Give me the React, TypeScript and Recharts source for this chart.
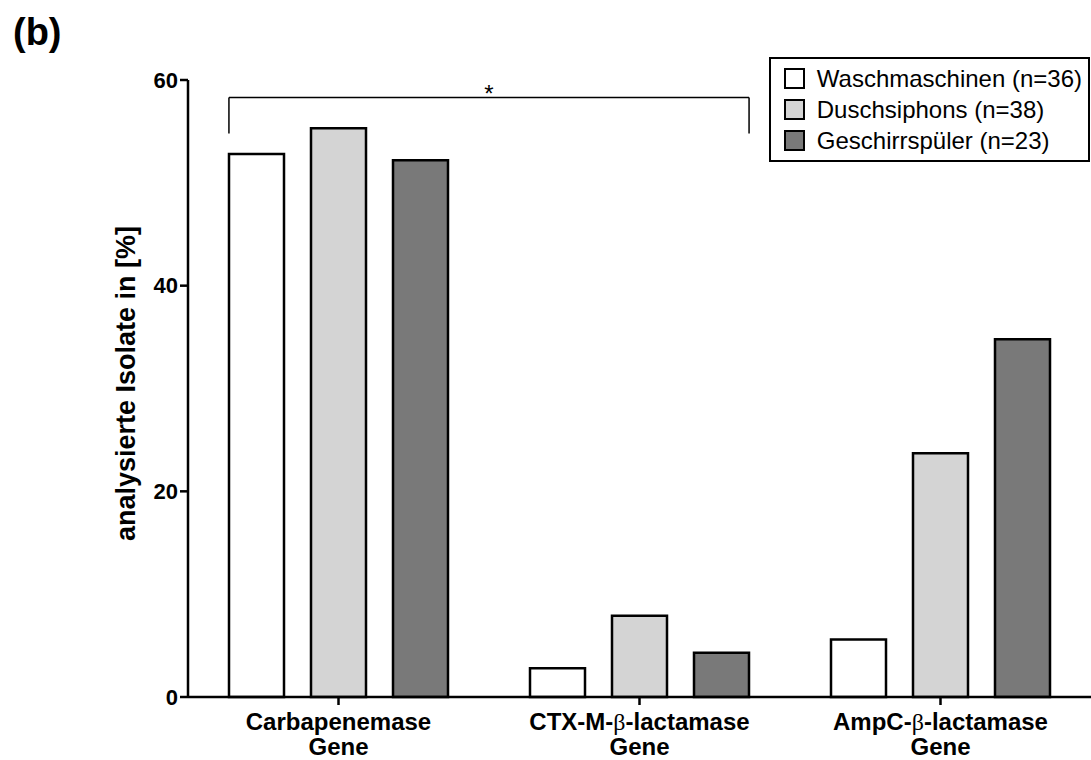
import React from "react";
import { Bar, BarChart, Legend, ReferenceLine, XAxis, YAxis } from "recharts";

const FONT = '"Liberation Sans", Arial, sans-serif';

const genes = ["Carbapenemase\nGene", "CTX-M-β-lactamase\nGene", "AmpC-β-lactamase\nGene"];
const waschmaschinen = [52.8, 2.8, 5.6];
const duschsiphons = [55.3, 7.9, 23.7];
const geschirrspueler = [52.2, 4.3, 34.8];
const yTicks = [0, 20, 40, 60];

// significance bracket: x in category units (0..3), y in %
const bracketX = [0.136, 1.864];
const bracketY = [54.8, 58.3];

const series = [
  { key: "wasch", name: "Waschmaschinen (n=36)", fill: "#ffffff" },
  { key: "dusch", name: "Duschsiphons (n=38)", fill: "#d4d4d4" },
  { key: "geschirr", name: "Geschirrspüler (n=23)", fill: "#797979" },
];

const data = genes.map((gene, i) => ({
  gene,
  slot: i + 0.5,
  wasch: waschmaschinen[i],
  dusch: duschsiphons[i],
  geschirr: geschirrspueler[i],
}));

const withBeta = (line: string) =>
  line.split("β").map((part, i) => (
    <React.Fragment key={i}>
      {i > 0 && (
        <tspan fontFamily='"Liberation Serif", serif' fontWeight="normal">
          β
        </tspan>
      )}
      {part}
    </React.Fragment>
  ));

const GeneTick = ({ x, y, payload }: any) => {
  const lines = String(payload.value).split("\n");
  return (
    <text x={x} y={y} textAnchor="middle" fontSize={24} fontWeight="bold" fontFamily={FONT} fill="#000">
      {lines.map((line, i) => (
        <tspan key={i} x={x} dy={25}>
          {withBeta(line)}
        </tspan>
      ))}
    </text>
  );
};

const LegendBox = ({ payload }: any) => {
  const order = series.map((s) => s.name);
  const items = [...(payload || [])].sort((a: any, b: any) => order.indexOf(a.value) - order.indexOf(b.value));
  return (
    <div
      style={{
        border: "2px solid #000",
        padding: "4px 6px 4px 13px",
        background: "#fff",
        whiteSpace: "nowrap",
        fontFamily: FONT,
      }}
    >
      {items.map((entry: any) => (
        <div key={entry.value} style={{ display: "flex", alignItems: "center", height: 31 }}>
          <span
            style={{
              width: 21,
              height: 21,
              boxSizing: "border-box",
              border: "2px solid #000",
              background: entry.color,
              display: "inline-block",
            }}
          />
          <span style={{ marginLeft: 12, fontSize: 24, color: "#000" }}>{entry.value}</span>
        </div>
      ))}
    </div>
  );
};

const axisStroke = { stroke: "#000", strokeWidth: 2.5 };

export default function App() {
  return (
    <div style={{ position: "absolute", left: 0, top: 0, width: 1091, height: 760, background: "#fff" }}>
      <div
        style={{
          position: "absolute",
          left: 13,
          top: 13,
          fontFamily: FONT,
          fontWeight: "bold",
          fontSize: 38,
          lineHeight: 1,
          color: "#000",
        }}
      >
        (b)
      </div>
      <BarChart
        width={1091}
        height={760}
        data={data}
        margin={{ top: 80, right: 0, left: 0, bottom: 0 }}
        barSize={55}
        barGap={27}
      >
        <XAxis
          dataKey="gene"
          height={63}
          interval={0}
          axisLine={axisStroke}
          tickLine={axisStroke}
          tickSize={8}
          tickMargin={0}
          tick={<GeneTick />}
        />
        <XAxis
          xAxisId="b"
          dataKey="slot"
          type="number"
          scale="linear"
          domain={[0, 3]}
          allowDataOverflow
          padding={{ left: 0, right: 0 }}
          hide
        />
        <YAxis
          width={188}
          domain={[0, 60]}
          ticks={yTicks}
          interval={0}
          axisLine={axisStroke}
          tickLine={axisStroke}
          tickSize={8}
          tickMargin={2}
          tick={{ fill: "#000", fontSize: 22, fontWeight: "bold", fontFamily: FONT }}
          label={{
            value: "analysierte Isolate in [%]",
            angle: -90,
            position: "center",
            dx: 31,
            dy: -5,
            style: { fill: "#000", fontSize: 27, fontWeight: "bold", fontFamily: FONT },
          }}
        />
        <Legend
          layout="horizontal"
          verticalAlign="middle"
          align="center"
          wrapperStyle={{ top: 57, right: 1, left: "auto", width: "auto" }}
          content={<LegendBox />}
        />
        {series.map((s) => (
          <Bar
            key={s.key}
            dataKey={s.key}
            name={s.name}
            fill={s.fill}
            stroke="#000"
            strokeWidth={2.5}
            isAnimationActive={false}
          />
        ))}
        <ReferenceLine
          xAxisId="b"
          segment={[
            { x: bracketX[0], y: bracketY[0] },
            { x: bracketX[0], y: bracketY[1] },
          ]}
          stroke="#000"
          strokeWidth={1.5}
        />
        <ReferenceLine
          xAxisId="b"
          segment={[
            { x: bracketX[0], y: bracketY[1] },
            { x: bracketX[1], y: bracketY[1] },
          ]}
          stroke="#000"
          strokeWidth={1.5}
          label={{ value: "*", position: "center", dy: -4, fill: "#000", fontSize: 24, fontFamily: FONT }}
        />
        <ReferenceLine
          xAxisId="b"
          segment={[
            { x: bracketX[1], y: bracketY[1] },
            { x: bracketX[1], y: bracketY[0] },
          ]}
          stroke="#000"
          strokeWidth={1.5}
        />
      </BarChart>
    </div>
  );
}
